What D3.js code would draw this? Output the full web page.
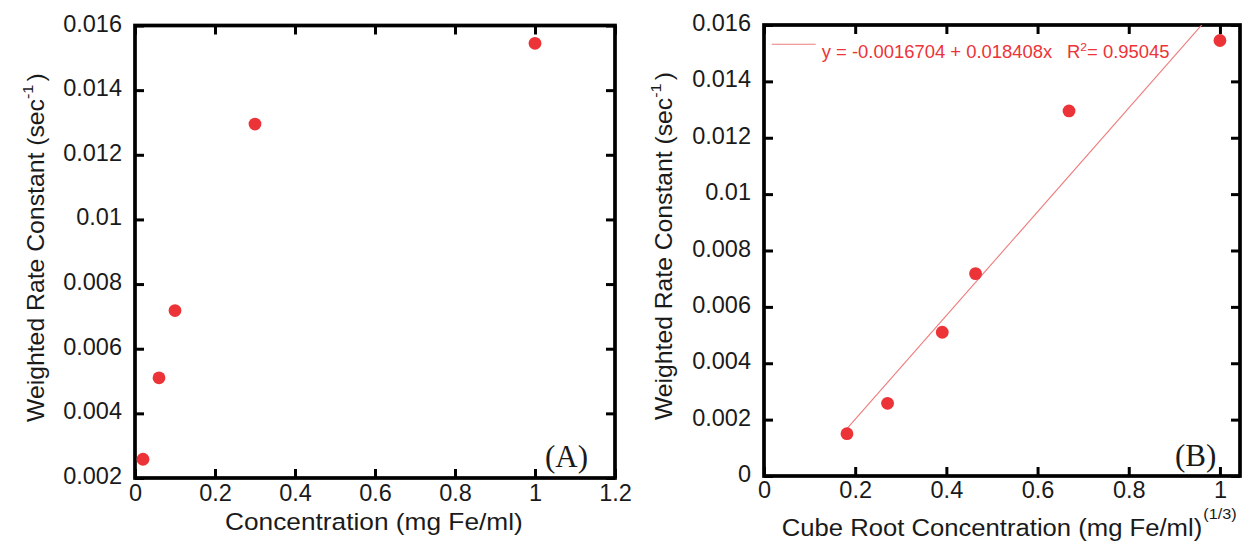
<!DOCTYPE html>
<html><head><meta charset="utf-8">
<script src="https://cdn.jsdelivr.net/npm/d3@7"></script>
<style>
body{margin:0;background:#fff}
svg{display:block}
text{font-family:"Liberation Sans",Arial,Helvetica,sans-serif;fill:#1a1a1a}
</style>
</head><body>
<svg id="chart" width="1242" height="542"></svg>
<script>
// ---- data ----
const concentration = [0.006, 0.02, 0.06, 0.1, 0.3, 1.0];          // mg Fe/ml
const cubeRootConc  = [0.182, 0.271, 0.391, 0.464, 0.669, 1.0];     // (mg Fe/ml)^(1/3)
const rateConstant  = [0.0015, 0.00258, 0.0051, 0.00718, 0.01295, 0.01545]; // sec^-1

const xTicksA = [0, 0.2, 0.4, 0.6, 0.8, 1, 1.2];
const xTickLabelsA = ["0", "0.2", "0.4", "0.6", "0.8", "1", "1.2"];
const yTicksA = [0.002, 0.004, 0.006, 0.008, 0.010, 0.012, 0.014, 0.016];
const yTickLabelsA = ["0.002", "0.004", "0.006", "0.008", "0.01", "0.012", "0.014", "0.016"];

const xTicksB = [0, 0.2, 0.4, 0.6, 0.8, 1];
const xTickLabelsB = ["0", "0.2", "0.4", "0.6", "0.8", "1"];
const yTicksB = [0, 0.002, 0.004, 0.006, 0.008, 0.010, 0.012, 0.014, 0.016];
const yTickLabelsB = ["0", "0.002", "0.004", "0.006", "0.008", "0.01", "0.012", "0.014", "0.016"];

const fitIntercept = -0.0016704;
const fitSlope = 0.018408;
const fitEquation = "y = -0.0016704 + 0.018408x";
const fitR2 = "0.95045";

// ---- drawing ----
const svg = d3.select("#chart");
const RED = "#ec3338";
const TICK = 9;
const TICKFONT = 23.5;

function fitTitle(x, y, rot, target, build) {
  const outer = svg.append("g").attr("transform", `translate(${x},${y}) rotate(${rot})`);
  const inner = outer.append("g");
  const t = inner.append("text").attr("text-anchor", "start");
  build(t);
  const w = t.node().getBBox().width;
  inner.attr("transform", `scale(${target / w},1)`);
  return t;
}

function panel(o) {
  const x = d3.scaleLinear().domain(o.xd).range(o.xr);
  const y = d3.scaleLinear().domain(o.yd).range(o.yr);
  const g = svg.append("g");
  const cid = "clip" + o.name;
  svg.append("clipPath").attr("id", cid).append("rect")
    .attr("x", o.xr[0]).attr("y", o.yr[1])
    .attr("width", o.xr[1] - o.xr[0]).attr("height", o.yr[0] - o.yr[1]);

  const lab = (ticks, labels) => v => labels[ticks.indexOf(v)];

  const bottom = g.append("g").attr("transform", `translate(0,${o.yr[0]})`)
    .call(d3.axisBottom(x).tickValues(o.xt).tickFormat(lab(o.xt, o.xl)).tickSize(-TICK).tickPadding(0));
  bottom.selectAll("text").attr("y", o.xlabOff).attr("dy", null).attr("font-size", TICKFONT).attr("fill", "#1a1a1a");

  const left = g.append("g").attr("transform", `translate(${o.xr[0]},0)`)
    .call(d3.axisLeft(y).tickValues(o.yt).tickFormat(lab(o.yt, o.yl)).tickSize(-TICK).tickPadding(0));
  left.selectAll("text").attr("x", -13).attr("dy", null).attr("y", 5.5).attr("font-size", TICKFONT).attr("fill", "#1a1a1a");

  const top = g.append("g").attr("transform", `translate(0,${o.yr[1]})`)
    .call(d3.axisTop(x).tickValues(o.xt).tickFormat("").tickSize(-TICK));
  const right = g.append("g").attr("transform", `translate(${o.xr[1]},0)`)
    .call(d3.axisRight(y).tickValues(o.yt).tickFormat("").tickSize(-TICK));

  [bottom, left, top, right].forEach(a => {
    a.select(".domain").remove();
    a.attr("font-family", null).attr("font-size", null);
    a.selectAll("line").attr("stroke", "#000").attr("stroke-width", 3);
  });

  g.append("rect").attr("x", o.xr[0]).attr("y", o.yr[1])
    .attr("width", o.xr[1] - o.xr[0]).attr("height", o.yr[0] - o.yr[1])
    .attr("fill", "none").attr("stroke", "#000").attr("stroke-width", 3.7);

  const plot = g.append("g").attr("clip-path", `url(#${cid})`);
  if (o.fit) {
    const x0 = d3.min(o.xs), x1 = d3.max(o.xs);
    plot.append("line")
      .attr("x1", x(x0)).attr("y1", y(fitIntercept + fitSlope * x0))
      .attr("x2", x(x1)).attr("y2", y(fitIntercept + fitSlope * x1))
      .attr("stroke", "#ee7b7b").attr("stroke-width", 1.1);
  }
  plot.selectAll("circle").data(o.xs.map((v, i) => [v, rateConstant[i]])).join("circle")
    .attr("cx", d => x(d[0])).attr("cy", d => y(d[1])).attr("r", 6.4).attr("fill", RED);

  g.append("text").attr("x", o.tagX).attr("y", o.tagY)
    .style("font-family", '"Liberation Serif","Times New Roman",serif')
    .attr("font-size", 31).attr("fill", "#1a1a1a").text(o.tag);
  return {x, y};
}

panel({name: "A", xd: [0, 1.2], xr: [135, 615], yd: [0.002, 0.016], yr: [478, 25.5],
  xt: xTicksA, xl: xTickLabelsA, yt: yTicksA, yl: yTickLabelsA, xs: concentration,
  xlabOff: 23, tag: "(A)", tagX: 545, tagY: 467, fit: false});

panel({name: "B", xd: [0, 1.044], xr: [764, 1240], yd: [0, 0.016], yr: [476, 25],
  xt: xTicksB, xl: xTickLabelsB, yt: yTicksB, yl: yTickLabelsB, xs: cubeRootConc,
  xlabOff: 22, tag: "(B)", tagX: 1175, tagY: 465.5, fit: true});

// axis titles
fitTitle(225, 530, 0, 298, t => t.attr("font-size", 24.5).text("Concentration (mg Fe/ml)"));
fitTitle(781.7, 535.5, 0, 455, t => {
  t.attr("font-size", 24.5);
  t.append("tspan").text("Cube Root Concentration (mg Fe/ml)");
  t.append("tspan").attr("font-size", 15.5).attr("dy", -16.5).attr("dx", 1).text("(1/3)");
});
function yTitle(t) {
  t.attr("font-size", 23);
  t.append("tspan").text("Weighted Rate Constant (sec");
  t.append("tspan").attr("font-size", 15).attr("dy", -11).text("-1");
  t.append("tspan").attr("dy", 11).attr("dx", 3).text(")");
}
fitTitle(43.5, 422, -90, 349, yTitle);
fitTitle(672, 420, -90, 348, yTitle);

// fit legend
svg.append("line").attr("x1", 771.7).attr("x2", 815.7).attr("y1", 44.3).attr("y2", 44.3)
  .attr("stroke", "#ee7b7b").attr("stroke-width", 1.1);
fitTitle(821.7, 57.5, 0, 348, t => {
  t.attr("font-size", 17.5).style("fill", RED);
  t.append("tspan").text(fitEquation);
  t.append("tspan").attr("dx", 14).text("R");
  t.append("tspan").attr("font-size", 11.5).attr("dy", -7).text("2");
  t.append("tspan").attr("dy", 7).text("= " + fitR2);
});
</script>
</body></html>
